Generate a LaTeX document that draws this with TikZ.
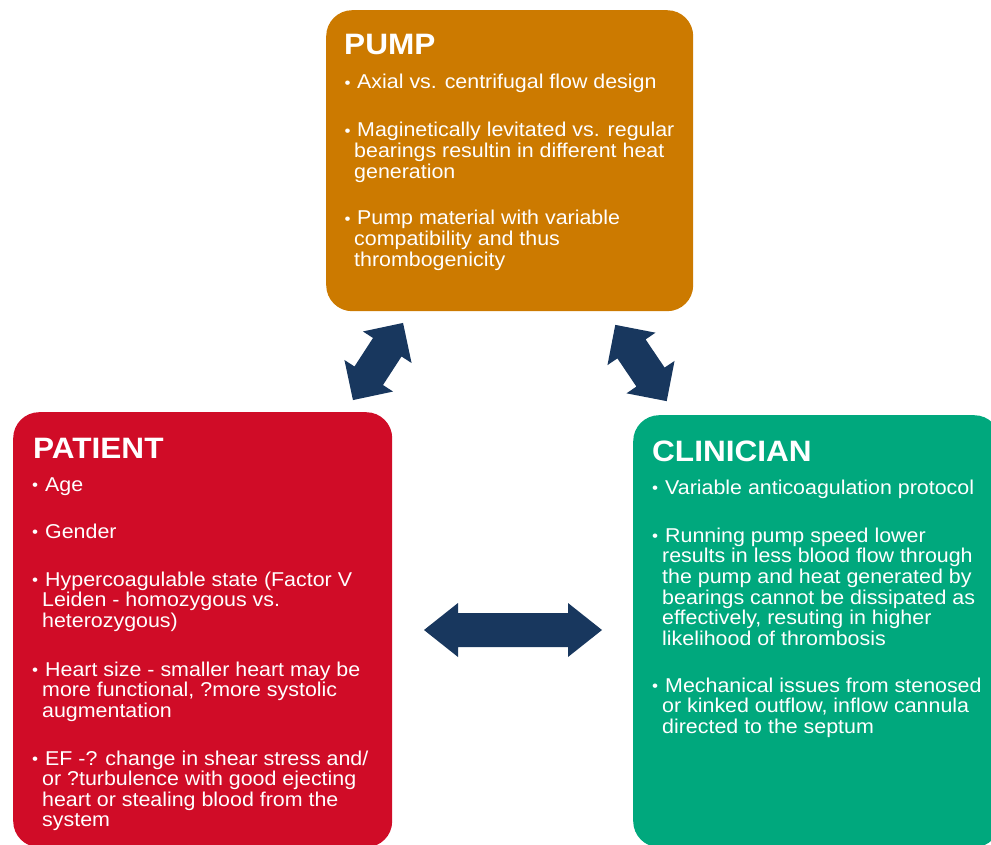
\documentclass[tikz,border=0pt]{standalone}
\usepackage{fontspec}
\setmainfont{Liberation Sans}[FakeStretch=1.07]
\definecolor{pumpc}{HTML}{CC7A00}
\definecolor{patc}{HTML}{D00C27}
\definecolor{clinc}{HTML}{00A87D}
\definecolor{navy}{HTML}{18375E}
\begin{document}
\begin{tikzpicture}[x=1pt,y=-1pt,
  panel/.style={rectangle, rounded corners=26pt, inner sep=0, anchor=north west},
  ttl/.style={anchor=base west, inner sep=0, text=white, font=\fontsize{29.5}{30}\selectfont\bfseries},
  txt/.style={anchor=base west, inner sep=0, text=white, font=\fontsize{20}{20.6}\selectfont},
  bul/.style={anchor=center, inner sep=0, text=white, font=\fontsize{16}{16}\selectfont},
  blockarrow/.style={fill=navy}]
\useasboundingbox (0,0) rectangle (991,845);
\begin{scope}
\clip (0,0) rectangle (991,845);
% panels
\node[panel, fill=pumpc, minimum width=367pt, minimum height=301pt] (pump) at (326,10) {};
\node[panel, fill=patc, minimum width=379pt, minimum height=435pt] (patient) at (13,412) {};
\node[panel, fill=clinc, minimum width=367pt, minimum height=432pt] (clinician) at (633,415) {};
\end{scope}
% PUMP text
\node[ttl] (pumpt) at (344,55) {PUMP};
\node[bul] (pb1) at (347.5,85) {•};
\node[txt] (p1) at (354,89) {\begin{tabular}[t]{@{}l@{}}\hspace{3pt}Axial vs. centrifugal flow design\end{tabular}};
\node[bul] (pb2) at (347.5,133) {•};
\node[txt] (p2) at (354,137) {\begin{tabular}[t]{@{}l@{}}\hspace{3pt}Maginetically levitated vs. regular\\bearings resultin in different heat\\generation\end{tabular}};
\node[bul] (pb3) at (347.5,221) {•};
\node[txt] (p3) at (354,225) {\begin{tabular}[t]{@{}l@{}}\hspace{3pt}Pump material with variable\\compatibility and thus\\thrombogenicity\end{tabular}};
% PATIENT text
\node[ttl] (patt) at (33,458) {PATIENT};
\node[bul] (ab1) at (35,487) {•};
\node[txt] (a1) at (42,491) {\begin{tabular}[t]{@{}l@{}}\hspace{3pt}Age\end{tabular}};
\node[bul] (ab2) at (35,534) {•};
\node[txt] (a2) at (42,538) {\begin{tabular}[t]{@{}l@{}}\hspace{3pt}Gender\end{tabular}};
\node[bul] (ab3) at (35,582) {•};
\node[txt] (a3) at (42,586) {\begin{tabular}[t]{@{}l@{}}\hspace{3pt}Hypercoagulable state (Factor V\\Leiden - homozygous vs.\\heterozygous)\end{tabular}};
\node[bul] (ab4) at (35,672) {•};
\node[txt] (a4) at (42,676) {\begin{tabular}[t]{@{}l@{}}\hspace{3pt}Heart size - smaller heart may be\\more functional, ?more systolic\\augmentation\end{tabular}};
\node[bul] (ab5) at (35,761) {•};
\node[txt] (a5) at (42,765) {\begin{tabular}[t]{@{}l@{}}\hspace{3pt}EF -? change in shear stress and/\\or ?turbulence with good ejecting\\heart or stealing blood from the\\system\end{tabular}};
% CLINICIAN text
\node[ttl] (clint) at (652,461) {CLINICIAN};
\node[bul] (cb1) at (655,490) {•};
\node[txt] (c1) at (662,494) {\begin{tabular}[t]{@{}l@{}}\hspace{3pt}Variable anticoagulation protocol\end{tabular}};
\node[bul] (cb2) at (655,538) {•};
\node[txt] (c2) at (662,542) {\begin{tabular}[t]{@{}l@{}}\hspace{3pt}Running pump speed lower\\results in less blood flow through\\the pump and heat generated by\\bearings cannot be dissipated as\\effectively, resuting in higher\\likelihood of thrombosis\end{tabular}};
\node[bul] (cb3) at (655,688) {•};
\node[txt] (c3) at (662,692) {\begin{tabular}[t]{@{}l@{}}\hspace{3pt}Mechanical issues from stenosed\\or kinked outflow, inflow cannula\\directed to the septum\end{tabular}};
% arrows
\begin{scope}[shift={(513,630)}]
\fill[blockarrow] (-89,0) -- (-55,-27) -- (-55,-17) -- (55,-17) -- (55,-27) -- (89,0) -- (55,27) -- (55,17) -- (-55,17) -- (-55,27) -- cycle;
\end{scope}
\begin{scope}[shift={(378,361.5)}, rotate=57]
\fill[blockarrow] (-46,0) -- (-17,-29) -- (-17,-17) -- (17,-17) -- (17,-29) -- (46,0) -- (17,29) -- (17,17) -- (-17,17) -- (-17,29) -- cycle;
\end{scope}
\begin{scope}[shift={(641,363)}, rotate=-56]
\fill[blockarrow] (-46,0) -- (-17,-29) -- (-17,-17) -- (17,-17) -- (17,-29) -- (46,0) -- (17,29) -- (17,17) -- (-17,17) -- (-17,29) -- cycle;
\end{scope}
\end{tikzpicture}
\end{document}
